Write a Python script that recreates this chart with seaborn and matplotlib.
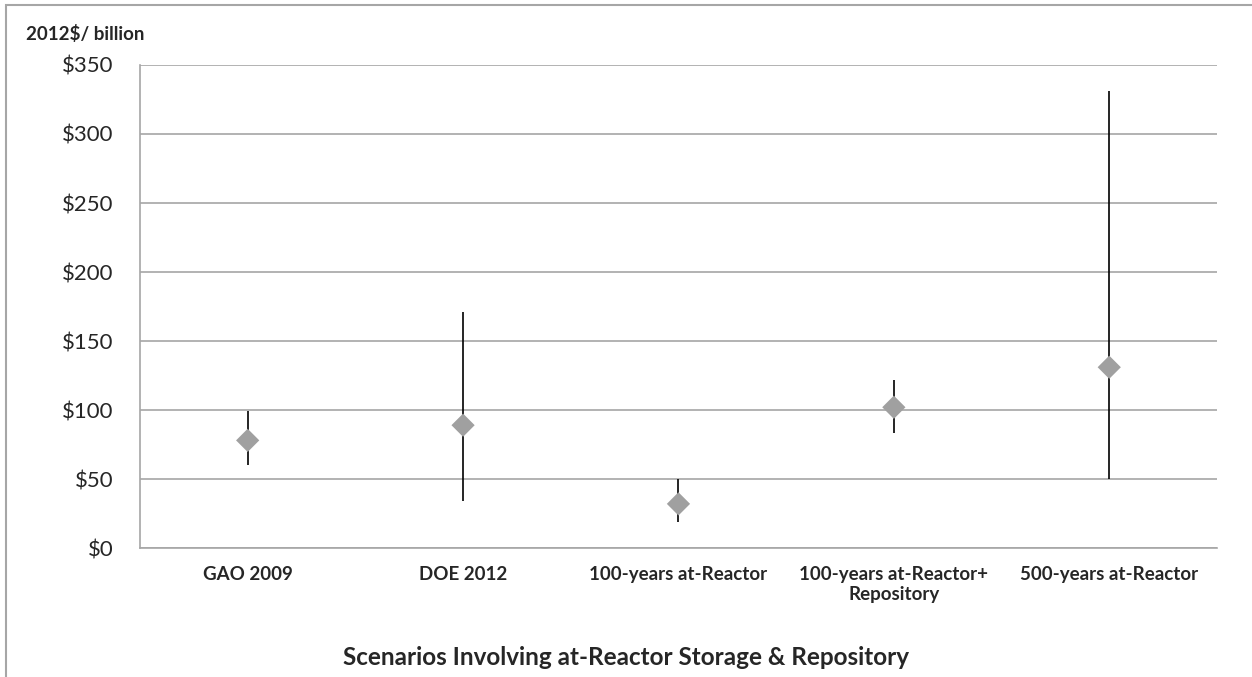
import numpy as np
import pandas as pd
import matplotlib
matplotlib.use("Agg")
import matplotlib.pyplot as plt
import seaborn as sns
from matplotlib.patches import Rectangle

# Chart data (2012$ billion)
scenarios = ["GAO 2009", "DOE 2012", "100-years at-Reactor",
             "100-years at-Reactor+\nRepository", "500-years at-Reactor"]
mid_values = [78, 89, 32, 102, 131]
low_values = [60, 34, 19, 83, 50]
high_values = [99, 171, 50, 122, 331]
y_ticks = [0, 50, 100, 150, 200, 250, 300, 350]

sns.set_style("white")
plt.rcParams['font.family'] = ['Lato', 'DejaVu Sans']

df = pd.DataFrame({"scenario": scenarios, "mid": mid_values,
                   "low": low_values, "high": high_values})
df["pos"] = np.arange(len(df))

figure = plt.figure(figsize=(12.52, 6.77), dpi=100)
axes = figure.add_axes([0.1118, 0.1905, 0.8602, 0.7135])

# Range lines
axes.vlines(df["pos"], df["low"], df["high"], color='black', linewidth=1.2, zorder=2)

# Mid point diamonds
sns.scatterplot(data=df, x="pos", y="mid", marker='D', s=140, color='#A0A0A0',
                edgecolor='none', ax=axes, zorder=3)

axes.set_xlim(-0.5, len(df) - 0.5)
axes.set_ylim(0, 350)
axes.set_yticks(y_ticks)
axes.set_yticklabels([f"${v}" for v in y_ticks], fontsize=16)
axes.yaxis.grid(True, color='#A6A6A6', linewidth=1.2)
axes.set_axisbelow(True)

axes.set_xticks(df["pos"])
axes.set_xticklabels(df["scenario"], fontsize=13.5, fontweight='bold', linespacing=1.2)
axes.tick_params(axis='x', length=0, pad=13)
# Category boundary ticks
axes.set_xticks(np.arange(-0.5, len(df)), minor=True)
axes.tick_params(axis='x', which='minor', length=6, color='#A6A6A6', width=1.2)
axes.tick_params(axis='y', length=6, color='#A6A6A6', width=1.2, pad=13)

for side in ['top', 'right']:
    axes.spines[side].set_visible(False)
for side in ['left', 'bottom']:
    axes.spines[side].set_color('#A6A6A6')
    axes.spines[side].set_linewidth(1.2)

axes.set_xlabel("")
axes.set_ylabel("")

figure.text(0.021, 0.95, "2012$/ billion", fontsize=13.5, fontweight='bold',
            ha='left', va='center')
figure.text(0.5, 0.029, "Scenarios Involving at-Reactor Storage & Repository",
            fontsize=17.5, fontweight='bold', ha='center', va='center')

# Outer chart border (only top and left fall inside the image)
figure.patches.append(Rectangle((0.005, -0.2), 1.2, 1.1926, transform=figure.transFigure,
                                fill=False, edgecolor='#A6A6A6', linewidth=1.5))

figure.savefig("out.png", dpi=100)
plt.close(figure)
